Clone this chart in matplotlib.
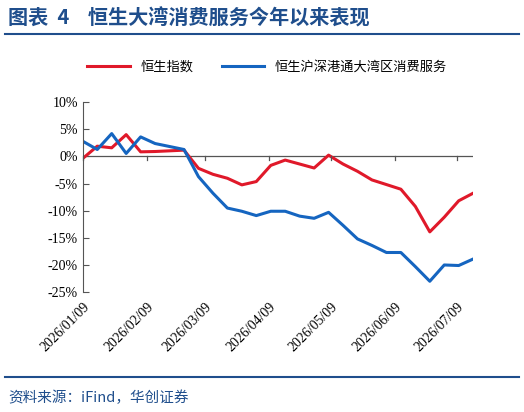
import matplotlib
matplotlib.use("Agg")
import matplotlib.pyplot as plt
import matplotlib.dates as mdates
import numpy as np
import pandas as pd

dates = pd.to_datetime(["2026-01-09","2026-01-16","2026-01-23","2026-01-30","2026-02-06","2026-02-13"] +
                       [d.strftime("%Y-%m-%d") for d in pd.date_range("2026-02-27", periods=21, freq="7D")])
hsi = [-0.37, 1.89, 1.59, 4.02, 0.85, 0.91, 1.16, -2.19, -3.29, -4.02, -5.24, -4.63, -1.65, -0.67, -1.40,
       -2.13, 0.24, -1.40, -2.74, -4.33, -5.18, -6.04, -9.21, -13.9, -11.2, -8.17, -6.77]
gba = [2.80, 1.28, 4.21, 0.55, 3.60, 2.38, 1.28, -3.72, -6.77, -9.51, -10.1, -10.9, -10.1, -10.1, -11.0,
       -11.4, -10.3, -12.7, -15.2, -16.4, -17.7, -17.7, -20.3, -23.0, -20.0, -20.1, -18.9]
names = ["恒生指数", "恒生沪深港通大湾区消费服务"]
ticks = pd.to_datetime(["2026-01-09","2026-02-09","2026-03-09","2026-04-09","2026-05-09","2026-06-09","2026-07-09"])

cjk = ["Noto Sans CJK SC", "DejaVu Sans"]
serif = ["Liberation Serif", "DejaVu Serif"]
navy = "#1f4e8c"

fig = plt.figure(figsize=(5.24, 4.12), dpi=100)
ax = fig.add_axes([0.158, 0.291, 0.745, 0.461])
ax.plot(dates, hsi, color="#e0192a", lw=2.2, label=names[0])
ax.plot(dates, gba, color="#1565c0", lw=2.2, label=names[1])
ax.set_xlim(dates[0], dates[-1])
ax.set_ylim(-25, 10)
ax.set_yticks(np.arange(-25, 11, 5))
ax.set_yticklabels([f"{v}%" for v in range(-25, 11, 5)], family=serif, fontsize=10)
for s in ["top", "right", "bottom"]:
    ax.spines[s].set_visible(False)
ax.spines["left"].set_color("#555555")
ax.axhline(0, color="#555555", lw=0.9, zorder=1)
ax.set_xticks(ticks)
ax.set_xticklabels([t.strftime("%Y/%m/%d") for t in ticks], rotation=45, ha="right",
                   rotation_mode="anchor", family=serif, fontsize=10)
ax.tick_params(axis="x", length=0, pad=6)
ax.tick_params(axis="y", direction="in", length=4, color="#555555")
for t in ticks:
    ax.plot([t, t], [0, -0.7], color="#555555", lw=0.9, clip_on=False)

leg = fig.legend(loc="center", bbox_to_anchor=(0.51, 0.837), ncol=2, frameon=False,
                 prop={"family": cjk, "size": 9.5}, handlelength=3.2, columnspacing=2.2)

fig.text(0.015, 0.955, "图表  4    恒生大湾消费服务今年以来表现", family=cjk, fontsize=14.5,
         fontweight="bold", color=navy, va="center")
fig.add_artist(plt.Line2D([0.01, 0.99], [0.918, 0.918], color=navy, lw=1.5))
fig.add_artist(plt.Line2D([0.01, 0.99], [0.085, 0.085], color=navy, lw=1.5))
fig.text(0.015, 0.035, "资料来源：iFind，华创证券", family=cjk, fontsize=10.5,
         style="italic", color=navy, va="center")
fig.savefig("out.png", dpi=100)
